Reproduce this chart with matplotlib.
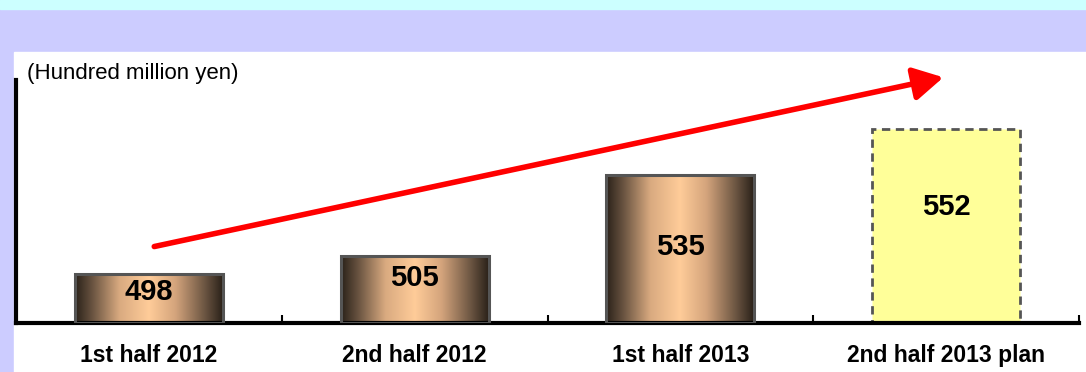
import numpy as np
import matplotlib.pyplot as plt
from matplotlib.patches import Rectangle
from matplotlib.colors import LinearSegmentedColormap

plt.rcParams['font.family'] = ['Liberation Sans', 'DejaVu Sans']

periods = ['1st half 2012', '2nd half 2012', '1st half 2013', '2nd half 2013 plan']
sales = [498, 505, 535, 552]
label_y = [491.5, 496.5, 508, 523]   # where the value text sits inside each bar
is_plan = [False, False, False, True]
unit_label = '(Hundred million yen)'

# copper-ish horizontal shading for actual results
copper = LinearSegmentedColormap.from_list(
    'copper_bar',
    [(0.00, '#2a2119'), (0.12, '#6b5542'), (0.30, '#d9aa80'),
     (0.50, '#ffcc99'), (0.68, '#d4a47c'), (0.88, '#6b5542'), (1.00, '#2a2119')])

fig = plt.figure(figsize=(10.86, 3.72), dpi=100)
W, H = 1086, 372

# page background bands
fig.patches.append(Rectangle((0, 0), 1, 1, transform=fig.transFigure, color='#ccccff', zorder=-10))
fig.patches.append(Rectangle((0, 1 - 9 / H), 1, 9 / H, transform=fig.transFigure, color='#ccffff', zorder=-9))
fig.patches.append(Rectangle((14 / W, 0), 1, 1 - 52 / H, transform=fig.transFigure, color='white', zorder=-9))

ax = fig.add_axes([16 / W, (H - 323) / H, (1079 - 16) / W, (323 - 80) / H])
ax.set_facecolor('none')
ax.set_xlim(-0.5, 3.5)
ax.set_ylim(480, 570)

x = np.arange(len(periods))
bar_w = 0.556
grad = np.linspace(0, 1, 256).reshape(1, -1)

for i, (v, plan) in enumerate(zip(sales, is_plan)):
    if plan:
        ax.bar(x[i], v - 480, bottom=480, width=bar_w, color='#ffff99',
               edgecolor='#555555', linewidth=2, linestyle=(0, (3, 2)), zorder=2)
    else:
        bars = ax.bar(x[i], v - 480, bottom=480, width=bar_w, facecolor='none',
                      edgecolor='#555555', linewidth=2.2, zorder=3)
        im = ax.imshow(grad, cmap=copper, aspect='auto', zorder=2,
                       extent=(x[i] - bar_w / 2, x[i] + bar_w / 2, 480, v))
        im.set_clip_path(bars[0])
    ax.text(x[i], label_y[i], str(v), ha='center', va='center',
            fontsize=21, fontweight='bold', zorder=5)

# growth arrow
ax.annotate('', xy=(3.0, 571.2), xytext=(0.01, 508.1),
            arrowprops=dict(arrowstyle='-|>,head_length=0.9,head_width=0.5',
                            color='red', lw=4, mutation_scale=20),
            annotation_clip=False, zorder=6)

ax.text(27 / W - 16 / W, 1 + 7 / 243, unit_label, transform=ax.transAxes,
        fontsize=16, ha='left', va='center')

for s in ['top', 'right']:
    ax.spines[s].set_visible(False)
ax.spines['left'].set_linewidth(3)
ax.spines['bottom'].set_linewidth(3)
ax.set_yticks([])
ax.set_xticks(x)
ax.set_xticklabels(periods, fontsize=16.5, fontweight='bold')
ax.tick_params(axis='x', which='major', length=0, pad=15)
ax.set_xticks([0.5, 1.5, 2.5, 3.5], minor=True)
ax.tick_params(axis='x', which='minor', direction='in', length=6, width=1.5)

fig.savefig('out.png', dpi=100)
